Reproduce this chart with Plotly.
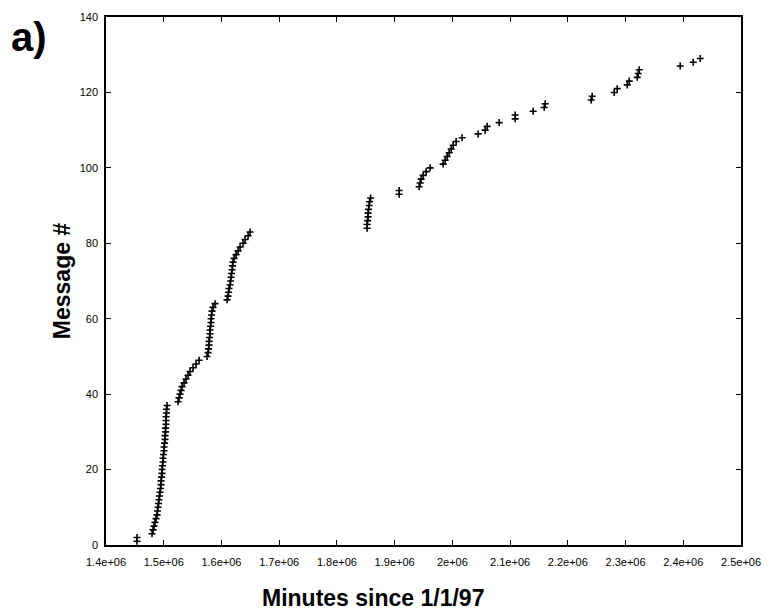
import plotly.graph_objects as go

# Minutes since 1/1/97 for each message
minutes = [
    1453700, 1453700,
    1479700, 1481500, 1483200, 1484900, 1486700, 1488400, 1489200, 1490100,
    1491000, 1491800, 1492700, 1493600, 1494400, 1495300, 1495300, 1496200,
    1497000, 1497000, 1497900, 1498800, 1498800, 1499600, 1500500, 1500500,
    1501400, 1502200, 1502200, 1503100, 1503100, 1504000, 1504000, 1504000,
    1504800, 1504800, 1505700,
    1524800, 1526500, 1528200, 1530000, 1531700, 1535200, 1538600, 1542100,
    1545600, 1550800, 1556000, 1561200,
    1575000, 1576800, 1577600, 1578500, 1578500, 1579400, 1580200, 1580200,
    1581100, 1582000, 1582000, 1582800, 1583700, 1585400, 1588900,
    1609700, 1611400, 1612300, 1613200, 1614900, 1615800, 1616600, 1617500,
    1618400, 1619200, 1620100, 1621800, 1625300, 1628800, 1632200, 1637400,
    1640900, 1646100, 1649600,
    1852300, 1852300, 1853200, 1854000, 1854000, 1854900, 1855800, 1856600,
    1858400,
    1907800, 1907800,
    1942400, 1944200, 1945900, 1949400, 1954600, 1961500,
    1984000, 1987500, 1991000, 1994400, 1997900, 2001400, 2006600, 2016900,
    2044700, 2056800, 2060300, 2081100, 2108800, 2108800, 2140000, 2159100,
    2160800,
    2240500, 2242200, 2280400, 2285600, 2302900, 2306400, 2320200, 2322000,
    2323700, 2394700, 2417300, 2429400,
]

message = [
    1, 2, 3, 4, 5, 6, 7, 8, 9, 10, 11, 12, 13, 14, 15, 16, 17, 18, 19, 20,
    21, 22, 23, 24, 25, 26, 27, 28, 29, 30, 31, 32, 33, 34, 35, 36, 37, 38,
    39, 40, 41, 42, 43, 44, 45, 46, 47, 48, 49, 50, 51, 52, 53, 54, 55, 56,
    57, 58, 59, 60, 61, 62, 63, 64, 65, 66, 67, 68, 69, 70, 71, 72, 73, 74,
    75, 76, 77, 78, 79, 80, 81, 82, 83, 84, 85, 86, 87, 88, 89, 90, 91, 92,
    93, 94, 95, 96, 97, 98, 99, 100, 101, 102, 103, 104, 105, 106, 107, 108,
    109, 110, 111, 112, 113, 114, 115, 116, 117, 118, 119, 120, 121, 122,
    123, 124, 125, 126, 127, 128, 129,
]

x_tickvals = [1400000, 1500000, 1600000, 1700000, 1800000, 1900000,
              2000000, 2100000, 2200000, 2300000, 2400000, 2500000]
x_ticktext = ["1.4e+06", "1.5e+06", "1.6e+06", "1.7e+06", "1.8e+06", "1.9e+06",
              "2e+06", "2.1e+06", "2.2e+06", "2.3e+06", "2.4e+06", "2.5e+06"]
y_tickvals = [0, 20, 40, 60, 80, 100, 120, 140]

fig = go.Figure()
fig.add_trace(go.Scatter(
    x=minutes, y=message, mode="markers",
    marker=dict(symbol="cross-thin", size=5, color="black",
                line=dict(width=1.6, color="black")),
    showlegend=False,
))

axis_common = dict(
    showgrid=False, zeroline=False, showline=True, linecolor="black",
    linewidth=1.5, mirror="ticks", ticks="inside", ticklen=5, tickwidth=1,
    tickcolor="black", tickfont=dict(family="Liberation Sans, Arial", size=11, color="black"),
)

fig.update_xaxes(range=[1400000, 2500000], tickvals=x_tickvals,
                 ticktext=x_ticktext, ticklabelstandoff=6, **axis_common)
fig.update_yaxes(range=[0, 140], tickvals=y_tickvals, ticklabelstandoff=4,
                 **axis_common)

fig.update_layout(
    width=767, height=613,
    margin=dict(l=106, r=26, t=17, b=68, autoexpand=False),
    plot_bgcolor="white", paper_bgcolor="white",
    font=dict(family="Liberation Sans, Arial", color="black"),
    annotations=[
        dict(text="<b>Minutes since 1/1/97</b>", xref="paper", yref="paper",
             x=0.4205, y=-0.10, xanchor="center", yanchor="middle",
             showarrow=False, font=dict(size=23, color="black")),
        dict(text="<b>Message #</b>", xref="paper", yref="paper",
             x=-0.069, y=0.5, xanchor="center", yanchor="middle",
             textangle=-90, showarrow=False, font=dict(size=23, color="black")),
        dict(text="<b>a)</b>", xref="paper", yref="paper",
             x=-0.121, y=0.962, xanchor="center", yanchor="middle",
             showarrow=False, font=dict(size=40, color="black")),
    ],
)

fig.write_html("out.html", config={"displayModeBar": False},
               post_script="document.body.style.margin='0';")
